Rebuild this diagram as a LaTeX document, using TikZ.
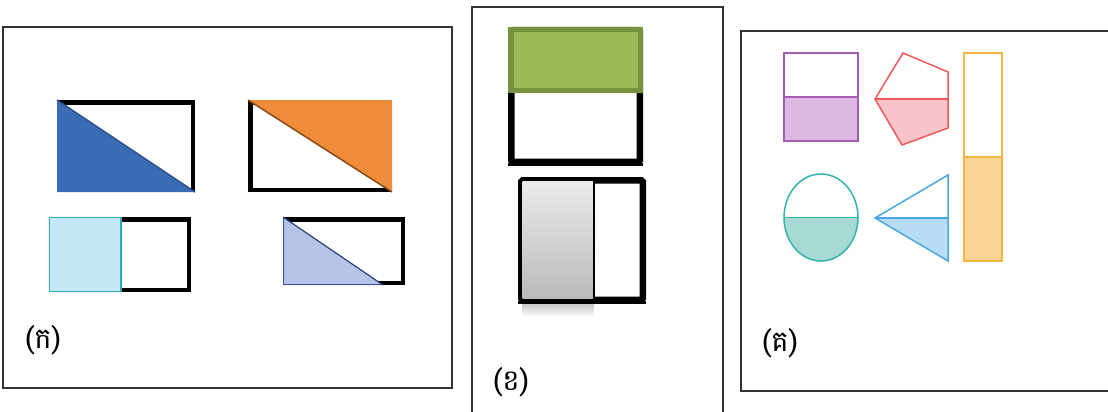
\documentclass[tikz,border=0pt]{standalone}
\usepackage{fontspec}
\newfontfamily\khmer[Script=Khmer]{Battambang}
\usetikzlibrary{calc}
\definecolor{frameC}{HTML}{333333}
\definecolor{blueA}{HTML}{3B6DB6}
\definecolor{blueAd}{HTML}{2A4F8A}
\definecolor{orangeA}{HTML}{EE8C3A}
\definecolor{orangeAd}{HTML}{8A4A18}
\definecolor{cyanA}{HTML}{C4E8F5}
\definecolor{cyanAd}{HTML}{2FAAB8}
\definecolor{lavA}{HTML}{B4C3E6}
\definecolor{lavAd}{HTML}{34509A}
\definecolor{greenF}{HTML}{9BBB59}
\definecolor{greenD}{HTML}{76923C}
\definecolor{purD}{HTML}{A45CB5}
\definecolor{purF}{HTML}{DDB8E0}
\definecolor{redD}{HTML}{EE5A5A}
\definecolor{redF}{HTML}{F7C4CB}
\definecolor{oraD}{HTML}{F3B53E}
\definecolor{oraF}{HTML}{FBD596}
\definecolor{tealD}{HTML}{33B2AE}
\definecolor{tealF}{HTML}{A6DAD3}
\definecolor{bluD}{HTML}{4AA8E0}
\definecolor{bluF}{HTML}{B8DCF4}
\tikzset{
  panel/.style={draw=frameC, line width=1.3pt},
  thickbox/.style={draw=black, line width=4.5pt},
  heavybox/.style={draw=black, line width=6.5pt, rounded corners=1.5pt},
  thinshape/.style={line width=1.5pt},
  lbl/.style={font=\khmer\fontsize{29}{34}\selectfont, inner sep=0pt}
}
\begin{document}
\begin{tikzpicture}[x=1pt,y=-1pt]
\useasboundingbox (0,0) rectangle (1108,412);
\fill[white] (0,0) rectangle (1108,412);

% ---------- Panel (ka) ----------
\draw[panel] (3,27) rectangle (452,388);
% blue
\draw[thickbox] (59.25,102.25) rectangle (192.75,189.75);
\fill[blueA] (57,100) -- (57,192) -- (195,192) -- cycle;
\draw[blueAd, line width=1.5pt] (57,100) -- (195,192);
% orange
\draw[thickbox] (250.25,102.25) rectangle (389.75,189.75);
\fill[orangeA] (248,100) -- (392,100) -- (392,192) -- cycle;
\draw[orangeAd, line width=1.5pt] (248,100) -- (392,192);
% cyan
\draw[thickbox] (51.25,219.25) rectangle (188.75,289.75);
\fill[cyanA, draw=cyanAd, line width=1.2pt] (49.6,217.6) rectangle (121,291.4);
% lavender
\draw[thickbox] (285.25,219.25) rectangle (402.75,282.75);
\fill[lavA] (283,217) -- (283,285) -- (383,285) -- cycle;
\draw[lavAd, line width=1.2pt] (283.6,217.6) -- (283.6,284.4) -- (383,284.4);
\draw[lavAd!80!black, line width=1.2pt] (283,217) -- (383,285);
\node[lbl] (ka) at (43,340) {(ក)};

% ---------- Panel (kha) ----------
\draw[panel] (472,412) -- (472,7) -- (723,7) -- (723,412);
\draw[heavybox] (511.25,30.25) rectangle (639.75,161.75);
\draw[black, line width=3pt] (508,164) -- (643,164);
\fill[greenF, draw=greenD, line width=5.5pt] (510.75,29.75) rectangle (640.25,90.25);
% gray box
\shade[top color=gray!45, bottom color=white] (522,303) rectangle (594,317);
\draw[heavybox] (521.25,180.25) rectangle (642.75,299.75);
\shade[top color=black!8, bottom color=black!27] (522.5,181.5) rectangle (594,298.5);
\draw[black, line width=2pt] (594,180) -- (594,300);
\draw[black, line width=3pt] (518,302) -- (646,302);
\node[lbl] (kha) at (511,382) {(ខ)};

% ---------- Panel (ko) ----------
\draw[panel] (1108,31) -- (741,31) -- (741,391) -- (1108,391);
% purple rectangle
\fill[purF] (784,97) rectangle (858,141);
\draw[purD, thinshape] (784,53) rectangle (858,141);
\draw[purD, thinshape] (784,97) -- (858,97);
% red pentagon
\fill[redF] (875,99) -- (948,99) -- (948,128) -- (902,145) -- cycle;
\draw[redD, thinshape] (903,53) -- (948,72) -- (948,128) -- (902,145) -- (875,99) -- cycle;
\draw[redD, thinshape] (875,99) -- (948,99);
% orange tall rectangle
\fill[oraF] (964,157) rectangle (1002,261);
\draw[oraD, thinshape] (964,53) rectangle (1002,261);
\draw[oraD, thinshape] (964,157) -- (1002,157);
% teal ellipse
\fill[tealF] (784,217.5) arc[start angle=180, end angle=360, x radius=37, y radius=-43.5] -- cycle;
\draw[tealD, thinshape] (821,217.5) ellipse [x radius=37, y radius=43.5];
\draw[tealD, thinshape] (784,217.5) -- (858,217.5);
% blue triangle
\fill[bluF] (875,218) -- (948,218) -- (948,261) -- cycle;
\draw[bluD, thinshape] (875,218) -- (948,175) -- (948,261) -- cycle;
\draw[bluD, thinshape] (875,218) -- (948,218);
\node[lbl] (ko) at (780,343) {(គ)};
\end{tikzpicture}
\end{document}
